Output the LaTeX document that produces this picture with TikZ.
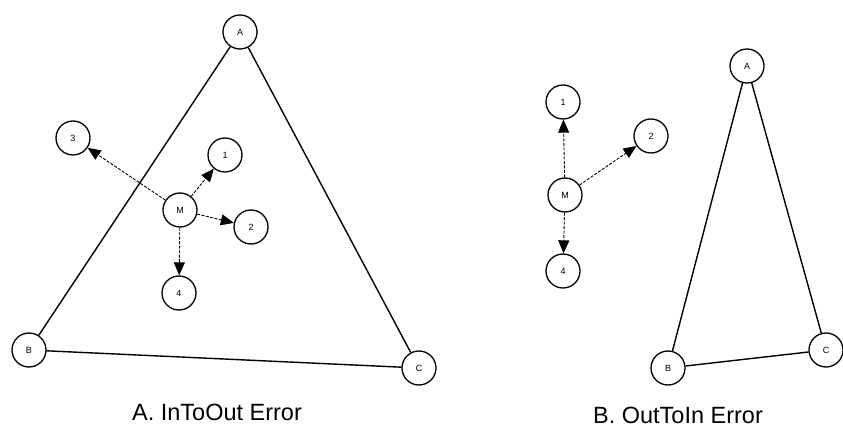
\documentclass[tikz,border=0pt]{standalone}
\usepackage{fontspec}
\setmainfont{Liberation Sans}
\usetikzlibrary{arrows.meta}
\begin{document}
\begin{tikzpicture}[x=1pt,y=-1pt,
  vtx/.style={circle,draw,line width=1.3pt,minimum size=34pt,inner sep=0pt,font=\fontsize{9}{9}\selectfont},
  edge/.style={line width=1.4pt},
  arr/.style={line width=0.9pt,dash pattern=on 3pt off 1.5pt,-{Triangle[length=13pt,width=11pt]}},
  captxt/.style={font=\fontsize{23.5}{23.5}\selectfont,anchor=base}]
\useasboundingbox (0,0) rectangle (843,427);
% Panel A
\node[vtx] (aA) at (240,32) {A};
\node[vtx] (aB) at (29,350) {B};
\node[vtx] (aC) at (419,368) {C};
\node[vtx] (aM) at (180,210) {M};
\node[vtx] (a1) at (225,155) {1};
\node[vtx] (a2) at (251,227) {2};
\node[vtx] (a3) at (73,138) {3};
\node[vtx] (a4) at (179,293) {4};
\draw[edge] (aA) -- (aB);
\draw[edge] (aA) -- (aC);
\draw[edge] (aB) -- (aC);
\draw[arr] (aM) -- (a1);
\draw[arr] (aM) -- (a2);
\draw[arr] (aM) -- (a3);
\draw[arr] (aM) -- (a4);
\node[captxt] (capA) at (217,420) {A. InToOut Error};
% Panel B
\node[vtx] (bA) at (747,66) {A};
\node[vtx] (bB) at (668,368) {B};
\node[vtx] (bC) at (826,350) {C};
\node[vtx] (bM) at (565,195) {M};
\node[vtx] (b1) at (563,102) {1};
\node[vtx] (b2) at (651,136) {2};
\node[vtx] (b4) at (563,271) {4};
\draw[edge] (bA) -- (bB);
\draw[edge] (bA) -- (bC);
\draw[edge] (bB) -- (bC);
\draw[arr] (bM) -- (b1);
\draw[arr] (bM) -- (b2);
\draw[arr] (bM) -- (b4);
\node[captxt] (capB) at (678,423) {B. OutToIn Error};
\end{tikzpicture}
\end{document}
